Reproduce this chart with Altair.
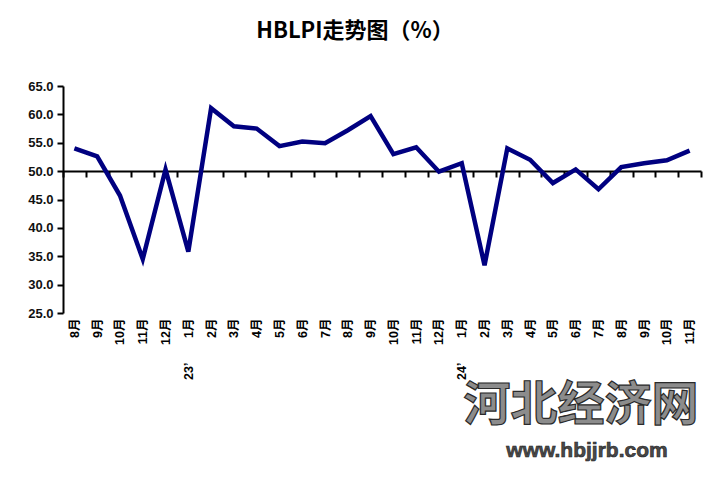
import altair as alt
import pandas as pd

# ---- data ----
month_labels = ["8月", "9月", "10月", "11月", "12月", "23’\u3000\u2002\u20021月", "2月", "3月", "4月", "5月",
                "6月", "7月", "8月", "9月", "10月", "11月", "12月", "24’\u3000\u2002\u20021月", "2月", "3月",
                "4月", "5月", "6月", "7月", "8月", "9月", "10月", "11月"]
hblpi = [54.0, 52.6, 45.7, 34.5, 50.3, 35.8, 61.1, 57.9, 57.5, 54.4,
         55.2, 54.9, 57.2, 59.7, 53.0, 54.2, 49.9, 51.4, 33.4, 54.0,
         52.0, 47.9, 50.3, 46.8, 50.7, 51.4, 51.9, 53.6]
y_ticks = [25, 30, 35, 40, 45, 50, 55, 60, 65]
title_text = "HBLPI走势图（%）"
watermark = ["河北经济网"]
site = ["www.hbjjrb.com"]

df = pd.DataFrame({"idx": list(range(len(hblpi))), "value": hblpi})

W, H = 638, 227
FONT = "Liberation Sans, Noto Sans CJK SC"
label_js = "[" + ",".join("'" + s + "'" for s in month_labels) + "][datum.value]"

line = alt.Chart(df).mark_line(color="#000080", strokeWidth=4.5, strokeJoin="miter").encode(
    x=alt.X("idx:O",
            scale=alt.Scale(type="band", paddingInner=0, paddingOuter=0),
            axis=alt.Axis(title=None, orient="bottom", offset=-142,
                          domainColor="black", domainWidth=2,
                          tickColor="black", tickWidth=2, tickSize=6, tickBand="extent",
                          labelAngle=270, labelAlign="right", labelBaseline="middle",
                          labelPadding=141, labelFont=FONT, labelFontSize=12.5,
                          labelFontWeight="bold", labelColor="black",
                          labelExpr=label_js, grid=False)),
    y=alt.Y("value:Q",
            scale=alt.Scale(domain=[25, 65], nice=False, zero=False),
            axis=alt.Axis(title=None, values=y_ticks, format=".1f",
                          domainColor="black", domainWidth=2,
                          tickColor="black", tickWidth=2, tickSize=6,
                          labelFont=FONT, labelFontSize=13, labelFontWeight="bold",
                          labelColor="#111111", labelPadding=4, grid=False)),
)

wm = alt.Chart(pd.DataFrame({"t": watermark})).mark_text(
    font="Noto Sans CJK SC", fontSize=47, fontWeight="bold", color="#8c8c8c",
    stroke="#2a2a2a", strokeWidth=1.2,
    align="center", baseline="middle"
).encode(x=alt.value(518), y=alt.value(320), text="t:N")

wm2 = alt.Chart(pd.DataFrame({"t": site})).mark_text(
    font="Liberation Sans", fontSize=21, fontWeight="bold", color="#4a4a4a",
    stroke="#222222", strokeWidth=0.6,
    align="center", baseline="middle"
).encode(x=alt.value(524), y=alt.value(365), text="t:N")

chart = alt.layer(line, wm, wm2).properties(
    width=W, height=H,
    title=alt.TitleParams(title_text, font="Noto Sans CJK SC", fontSize=22, fontWeight="bold",
                          color="black", anchor="middle", dx=-27, offset=37),
    autosize=alt.AutoSizeParams(type="none"),
    padding={"left": 55, "top": 78, "right": 10, "bottom": 152},
).configure_view(stroke=None)

chart.save("out.html", embed_options={"renderer": "svg", "actions": False})
